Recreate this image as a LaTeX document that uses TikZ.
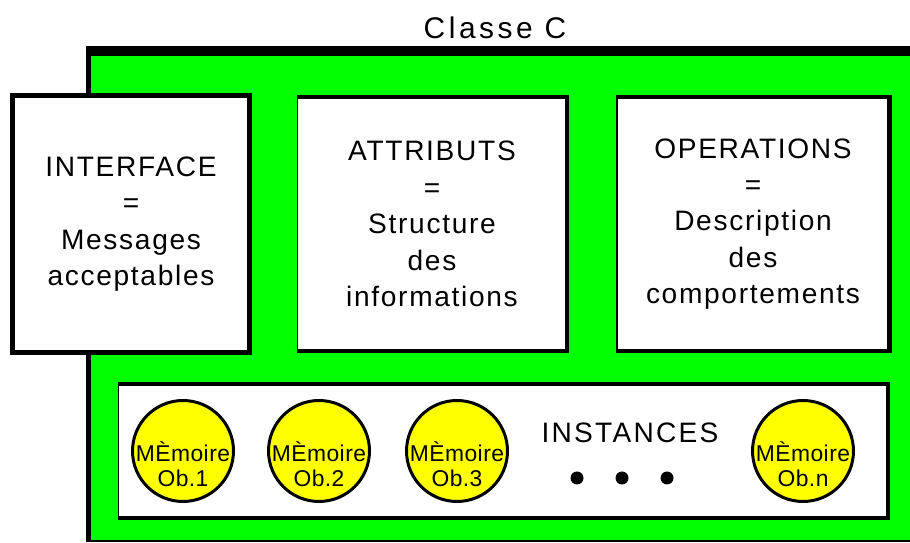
\documentclass[tikz,border=0pt]{standalone}
\usepackage{fontspec}
\setmainfont{Liberation Sans}
\newfontfamily\titrefont[LetterSpace=12]{Liberation Sans}
\newfontfamily\boitefont[LetterSpace=6]{Liberation Sans}
\newfontfamily\instfont[LetterSpace=8]{Liberation Sans}
\newfontfamily\memofont[LetterSpace=2]{Liberation Sans}
\usetikzlibrary{calc}
\definecolor{vert}{RGB}{0,255,0}
\definecolor{jaune}{RGB}{255,255,0}

\begin{document}
\begin{tikzpicture}[x=0.02cm,y=-0.02cm]
	\path [use as bounding box] (0,0) rectangle (910,543);
	\tikzstyle{boite} = [rectangle, draw, fill=white, line width=1.7pt, align=center, font=\boitefont\fontsize{16}{20.7}\selectfont]
	\tikzstyle{memoire} = [circle, draw, fill=jaune, line width=1.7pt, minimum size=2.02cm, inner sep=0pt]
	\tikzstyle{memotexte} = [align=center, inner sep=0pt, font=\memofont\fontsize{13}{14.2}\selectfont]
	\tikzstyle{point} = [circle, fill, inner sep=0pt, minimum size=0.26cm]
	\fill[black] (86,46) rectangle (910,542);
	\fill[vert] (91,56) rectangle (910,540);
	\node[font=\titrefont\fontsize{17}{18}\selectfont] (titre) at (495,28) {Classe C};
	\node[boite, line width=2.8pt, minimum width=4.74cm, minimum height=5.14cm] (interface) at (131,224) {INTERFACE\\=\\Messages\\acceptables};
	\node[boite, line width=0.8pt, minimum width=5.38cm, minimum height=5.06cm] (attributs) at (432,224) {ATTRIBUTS\\=\\Structure\\des\\informations};
	\node[boite, line width=0.8pt, minimum width=5.44cm, minimum height=5.06cm] (operations) at (753,224) {OPERATIONS\\=\\Description\\des\\comportements};
	\foreach \b in {attributs,operations}
		\draw[line width=2.6pt] (\b.north west) -- (\b.north east) -- (\b.south east) -- (\b.south west);
	\node[boite, line width=0.7pt, minimum width=15.38cm, minimum height=2.66cm] (instances) at (503,451) {};
	\draw[line width=2pt] (instances.north west) -- (instances.north east) -- (instances.south east) -- (instances.south west);
	\node[font=\instfont\fontsize{16}{18}\selectfont] (titreinst) at (630,433) {INSTANCES};
	\foreach \n/\x/\lab in {1/183/Ob.1, 2/319/Ob.2, 3/457/Ob.3, n/803/Ob.n} {
		\node[memoire] (m\n) at (\x,451) {};
		\node[memotexte] (t\n) at (\x,464) {MÈmoire\\\lab};
	}
	\foreach \x in {577,622,667}
		\node[point] (p\x) at (\x,478) {};
\end{tikzpicture}
\end{document}
